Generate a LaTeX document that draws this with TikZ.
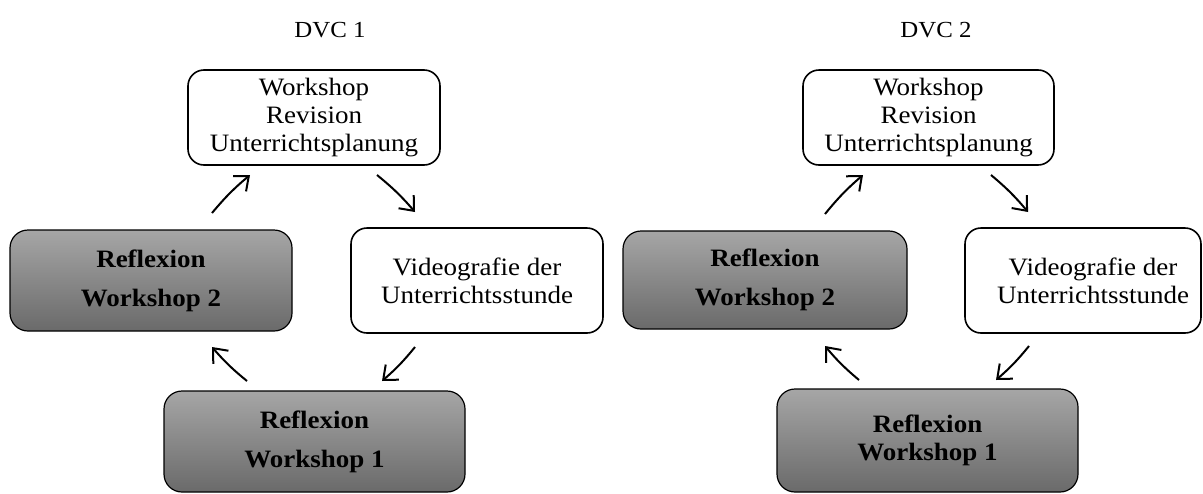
\documentclass[tikz,border=0pt]{standalone}
\usepackage{fontspec}
\setmainfont{Liberation Serif}[FakeStretch=1.08]
\usetikzlibrary{arrows.meta}
\definecolor{gtop}{RGB}{166,166,166}
\definecolor{gbot}{RGB}{106,106,106}
\begin{document}
\begin{tikzpicture}[x=0.5pt,y=-0.5pt,
  whitebox/.style={draw, line width=0.8pt, rounded corners=8pt, fill=white, align=center, inner sep=0pt,
    font=\fontsize{12.5}{14}\selectfont},
  greybox/.style={draw, line width=0.6pt, rounded corners=9pt, top color=gtop, bottom color=gbot,
    align=center, inner sep=0pt, font=\fontsize{12.5}{14}\selectfont\bfseries},
  cyc/.style={-{Straight Barb[length=6pt,width=10pt]}, line width=1pt, bend left=5},
  title/.style={font=\fontsize{11.5}{14}\selectfont, anchor=base, inner sep=0pt}]
\useasboundingbox (0,0) rectangle (1203,493);

% ---------- DVC 1 ----------
\node[title] (t1) at (330,37) {DVC 1};
\node[whitebox, minimum width=126pt, minimum height=47.5pt] (top1) at (314,117.5)
  {Workshop\\Revision\\Unterrichtsplanung};
\node[greybox, minimum width=141pt, minimum height=50.5pt] (ref2a) at (151,280.5)
  {Reflexion\\[5.5pt]Workshop 2};
\node[whitebox, minimum width=126pt, minimum height=52.5pt] (vid1) at (477,280.5)
  {Videografie der\\Unterrichtsstunde};
\node[greybox, minimum width=150.5pt, minimum height=50.5pt] (ref1a) at (314.5,441.5)
  {Reflexion\\[5.5pt]Workshop 1};

\coordinate (a1s) at (212,213); \coordinate (a1e) at (250,175);
\coordinate (a2s) at (377,175); \coordinate (a2e) at (415,212);
\coordinate (a3s) at (415,347); \coordinate (a3e) at (382,381);
\coordinate (a4s) at (247,381); \coordinate (a4e) at (212,347);
\draw[cyc] (a1s) to (a1e);
\draw[cyc] (a2s) to (a2e);
\draw[cyc] (a3s) to (a3e);
\draw[cyc] (a4s) to (a4e);

% ---------- DVC 2 ----------
\node[title] (t2) at (936,37) {DVC 2};
\node[whitebox, minimum width=125.5pt, minimum height=47.5pt] (top2) at (928.5,117.5)
  {Workshop\\Revision\\Unterrichtsplanung};
\node[greybox, minimum width=142pt, minimum height=49pt] (ref2b) at (765,280)
  {Reflexion\\[5.5pt]Workshop 2};
\node[whitebox, minimum width=118pt, minimum height=52.5pt] (vid2) at (1083,280.5)
  {\hspace*{10pt}Videografie der\\\hspace*{10pt}Unterrichtsstunde};
\node[greybox, minimum width=150.5pt, minimum height=51.5pt] (ref1b) at (927.5,440.5)
  {Reflexion\\Workshop 1};

\coordinate (b1s) at (825,214); \coordinate (b1e) at (863,175);
\coordinate (b2s) at (991,175); \coordinate (b2e) at (1028,212);
\coordinate (b3s) at (1029,346); \coordinate (b3e) at (996,380);
\coordinate (b4s) at (859,380); \coordinate (b4e) at (825,346);
\draw[cyc] (b1s) to (b1e);
\draw[cyc] (b2s) to (b2e);
\draw[cyc] (b3s) to (b3e);
\draw[cyc] (b4s) to (b4e);
\end{tikzpicture}
\end{document}
